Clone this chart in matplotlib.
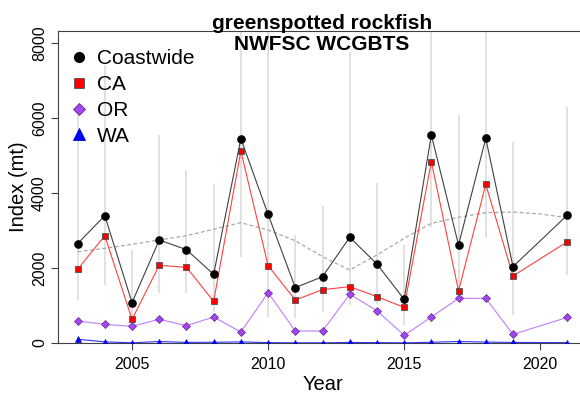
import matplotlib
matplotlib.use("Agg")
import matplotlib.pyplot as plt
from matplotlib.lines import Line2D

plt.rcParams['font.family'] = ['Liberation Sans', 'DejaVu Sans']

# survey years (no survey in 2020)
years = [2003, 2004, 2005, 2006, 2007, 2008, 2009, 2010, 2011, 2012,
         2013, 2014, 2015, 2016, 2017, 2018, 2019, 2021]

coastwide = [2649, 3396, 1076, 2747, 2489, 1831, 5449, 3431, 1476, 1769,
             2818, 2107, 1164, 5547, 2613, 5458, 2036, 3413]
cw_lo = [1147, 1547, 465, 1342, 1324, 836, 2302, 702, 658, 836,
         1013, 1050, 480, 3102, 1120, 2792, 747, 1813]
cw_hi = [6080, 7400, 2480, 5547, 4613, 4231, 12900, 16800, 2880, 3653,
         7770, 4258, 2613, 9900, 6080, 10600, 5352, 6301]

ca = [1964, 2862, 631, 2071, 2018, 1111, 5120, 2062, 1147, 1422,
      1502, 1236, 951, 4836, 1387, 4231, 1787, 2702]
orr = [587, 498, 444, 631, 462, 693, 293, 1342, 320, 320,
       1298, 862, 204, 693, 1191, 1191, 231, 684]
wa = [100, 30, 5, 40, 15, 20, 30, 10, 5, 5,
      15, 10, 5, 20, 40, 25, 15, 10]

# smooth model index (dashed), every year
fit_years = list(range(2003, 2022))
fit = [2436, 2524, 2631, 2747, 2862, 3031, 3209, 3013, 2728, 2302,
       1947, 2347, 2791, 3191, 3351, 3476, 3493, 3440, 3342]

fig = plt.figure(figsize=(5.8, 3.95), dpi=100)
ax = fig.add_axes([58 / 580, 1 - 343 / 395, (587 - 58) / 580, (343 - 31) / 395])

# confidence intervals
ax.vlines(years, cw_lo, cw_hi, color='#dedede', lw=1.3, zorder=1)
ax.plot(fit_years, fit, ls=(0, (3, 2)), color='#a8a8a8', lw=0.9, zorder=2)

ax.plot(years, wa, color='#3333ff', lw=0.8, marker='^', ms=4.5,
        mfc='#0000ff', mec='#0000cc', mew=0.5, zorder=3)
ax.plot(years, orr, color='#c27cff', lw=0.8, marker='D', ms=3.8,
        mfc='#a545f5', mec='#5a2a80', mew=0.5, zorder=4)
ax.plot(years, ca, color='#ff4040', lw=0.8, marker='s', ms=4.2,
        mfc='#ff0000', mec='#505050', mew=0.6, zorder=5)
ax.plot(years, coastwide, color='#404040', lw=0.8, marker='o', ms=5.2,
        mfc='black', mec='black', zorder=6)

ax.set_xlim(2002.28, 2021.72)
ax.set_ylim(0, 8320)
ax.set_xticks([2005, 2010, 2015, 2020])
ax.set_yticks([0, 2000, 4000, 6000, 8000])
ax.tick_params(axis='both', length=5, width=0.8, color='#404040',
               labelsize=11.5, pad=3)
ax.tick_params(axis='x', pad=5)
for lab in ax.get_yticklabels():
    lab.set_rotation(90)
    lab.set_va('center')
ax.spines['right'].set_visible(False)
for s in ['left', 'top', 'bottom']:
    ax.spines[s].set_color('#404040')
    ax.spines[s].set_linewidth(0.8)

ax.set_xlabel('Year', fontsize=14.5, labelpad=2)
ax.set_ylabel('Index (mt)', fontsize=14.5, labelpad=3)

fig.text(322 / 580, 1 - 50 / 395, 'greenspotted rockfish\nNWFSC WCGBTS',
         ha='center', va='baseline', fontsize=15, fontweight='bold',
         linespacing=1.15)

handles = [
    Line2D([], [], ls='none', marker='o', ms=7, mfc='black', mec='black'),
    Line2D([], [], ls='none', marker='s', ms=6.5, mfc='#ff0000', mec='#505050', mew=0.6),
    Line2D([], [], ls='none', marker='D', ms=6.2, mfc='#a545f5', mec='#5a2a80', mew=0.6),
    Line2D([], [], ls='none', marker='^', ms=9, mfc='#0000ff', mec='#0000cc', mew=0.6),
]
ax.legend(handles, ['Coastwide', 'CA', 'OR', 'WA'], loc='upper left',
          bbox_to_anchor=(0.0, 0.982), frameon=False, fontsize=15,
          handlelength=0.8, handletextpad=0.45, labelspacing=0.33,
          borderaxespad=0.3, borderpad=0.3)

fig.savefig('out.png', dpi=100)
